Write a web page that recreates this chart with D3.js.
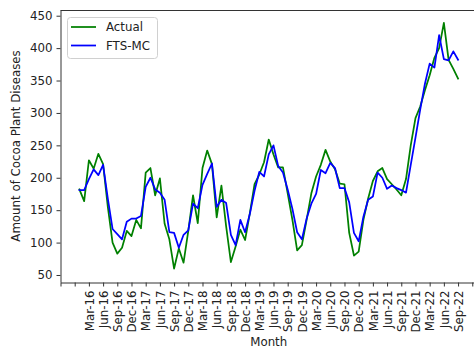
<!DOCTYPE html>
<html>
<head>
<meta charset="utf-8">
<script src="https://cdnjs.cloudflare.com/ajax/libs/d3/7.8.5/d3.min.js"></script>
<style>
  html, body { margin: 0; padding: 0; background: #fff; }
  svg { display: block; }
  text { font-family: "DejaVu Sans", sans-serif; }
</style>
</head>
<body>
<svg id="chart" width="474" height="350"></svg>
<script>
// Monthly observations, Jan-16 .. Sep-22
const months = [
  "Jan-16","Feb-16","Mar-16","Apr-16","May-16","Jun-16","Jul-16","Aug-16","Sep-16","Oct-16","Nov-16","Dec-16",
  "Jan-17","Feb-17","Mar-17","Apr-17","May-17","Jun-17","Jul-17","Aug-17","Sep-17","Oct-17","Nov-17","Dec-17",
  "Jan-18","Feb-18","Mar-18","Apr-18","May-18","Jun-18","Jul-18","Aug-18","Sep-18","Oct-18","Nov-18","Dec-18",
  "Jan-19","Feb-19","Mar-19","Apr-19","May-19","Jun-19","Jul-19","Aug-19","Sep-19","Oct-19","Nov-19","Dec-19",
  "Jan-20","Feb-20","Mar-20","Apr-20","May-20","Jun-20","Jul-20","Aug-20","Sep-20","Oct-20","Nov-20","Dec-20",
  "Jan-21","Feb-21","Mar-21","Apr-21","May-21","Jun-21","Jul-21","Aug-21","Sep-21","Oct-21","Nov-21","Dec-21",
  "Jan-22","Feb-22","Mar-22","Apr-22","May-22","Jun-22","Jul-22","Aug-22","Sep-22"
];

const actual = [
  182,164,227,214,237,221,155,100, 83, 92,118,110,
  135,122,208,215,173,199,129,105, 60, 91, 69,118,
  173,130,215,242,221,139,188,125, 70, 94,120,104,
  145,190,205,224,259,236,216,216,176,135, 88, 96,
  135,176,202,220,243,225,213,191,190,115, 80, 86,
  135,168,195,210,215,198,190,182,173,198,250,292,
  310,335,358,385,400,439,382,368,353
];

const ftsmc = [
  181,181,198,213,204,220,168,121,113,105,132,137,
  137,141,186,200,182,177,166,116,115, 92,112,119,
  160,153,189,206,222,155,166,161,112, 96,135,116,
  144,180,209,202,236,250,218,208,182,152,116,105,
  137,160,175,212,207,223,215,184,184,162,115,102,
  140,166,171,208,200,183,188,184,181,177,220,262,
  305,345,376,370,420,383,381,395,382
];

const xTickLabels = [
  "Mar-16","Jun-16","Sep-16","Dec-16","Mar-17","Jun-17","Sep-17","Dec-17",
  "Mar-18","Jun-18","Sep-18","Dec-18","Mar-19","Jun-19","Sep-19","Dec-19",
  "Mar-20","Jun-20","Sep-20","Dec-20","Mar-21","Jun-21","Sep-21","Dec-21",
  "Mar-22","Jun-22","Sep-22"
];
const yTicks = [50, 100, 150, 200, 250, 300, 350, 400, 450];

const seriesNames = ["Actual", "FTS-MC"];
const seriesColors = ["#008000", "#0000ff"];

const svg = d3.select("#chart");
const plot = { left: 60.5, top: 10, bottom: 282, right: 477 };

// x: month index, padded a few months either side
const x = d3.scaleLinear().domain([-4, 84]).range([plot.left, plot.right]);
const y = d3.scaleLinear().domain([39.2, 458.8]).range([plot.bottom, plot.top]);

const labelIndex = new Map(xTickLabels.map(l => [months.indexOf(l), l]));
const firstLabelIdx = months.indexOf(xTickLabels[0]);
const tickIdx = d3.range(firstLabelIdx - 6, 85, 3);

const axisColor = "#333";
const fontSize = "11.8px";

// top frame line
svg.append("line")
  .attr("x1", plot.left).attr("x2", plot.right)
  .attr("y1", plot.top + 0.5).attr("y2", plot.top + 0.5)
  .attr("stroke", axisColor).attr("stroke-width", 1);

// series lines
const line = d3.line().x((d, i) => x(i)).y(d => y(d));
[actual, ftsmc].forEach((vals, k) => {
  svg.append("path")
    .datum(vals)
    .attr("fill", "none")
    .attr("stroke", seriesColors[k])
    .attr("stroke-width", 1.75)
    .attr("stroke-linejoin", "round")
    .attr("stroke-linecap", "square")
    .attr("d", line);
});

// x axis
const xAxis = d3.axisBottom(x)
  .tickValues(tickIdx)
  .tickFormat(i => labelIndex.get(i) || "")
  .tickSize(4)
  .tickSizeOuter(0);
const gx = svg.append("g")
  .attr("transform", `translate(0,${plot.bottom + 0.5})`)
  .call(xAxis);
gx.selectAll("text")
  .attr("transform", "rotate(-90)")
  .attr("x", -8)
  .attr("y", 0)
  .attr("dy", "0.36em")
  .style("text-anchor", "end");

// y axis
const yAxis = d3.axisLeft(y)
  .tickValues(yTicks)
  .tickSize(4)
  .tickPadding(4)
  .tickSizeOuter(0);
const gy = svg.append("g")
  .attr("transform", `translate(${plot.left},0)`)
  .call(yAxis);

[gx, gy].forEach(g => {
  g.select(".domain").attr("stroke", axisColor).attr("stroke-width", 1);
  g.selectAll(".tick line").attr("stroke", axisColor).attr("stroke-width", 1);
  g.selectAll(".tick text")
    .attr("fill", "#222")
    .style("font-family", "DejaVu Sans, sans-serif")
    .style("font-size", fontSize);
});

// axis titles
svg.append("text")
  .attr("x", (plot.left + plot.right) / 2)
  .attr("y", 346)
  .attr("text-anchor", "middle")
  .attr("fill", "#222")
  .style("font-size", fontSize)
  .text("Month");

svg.append("text")
  .attr("transform", `translate(20,${(plot.top + plot.bottom) / 2}) rotate(-90)`)
  .attr("text-anchor", "middle")
  .attr("fill", "#222")
  .style("font-size", fontSize)
  .text("Amount of Cocoa Plant Diseases");

// legend
const lg = svg.append("g").attr("transform", "translate(67,17)");
lg.append("rect")
  .attr("x", 0.5).attr("y", 0.5)
  .attr("width", 90).attr("height", 41)
  .attr("rx", 3)
  .attr("fill", "#fff").attr("fill-opacity", 0.8)
  .attr("stroke", "#d0d0d0").attr("stroke-width", 1);
seriesNames.forEach((name, k) => {
  const cy = 10 + k * 18.5;
  lg.append("line")
    .attr("x1", 4).attr("x2", 29)
    .attr("y1", cy).attr("y2", cy)
    .attr("stroke", seriesColors[k]).attr("stroke-width", 1.75);
  lg.append("text")
    .attr("x", 39).attr("y", cy)
    .attr("dy", "0.36em")
    .attr("fill", "#222")
    .style("font-size", fontSize)
    .text(name);
});
</script>
</body>
</html>
